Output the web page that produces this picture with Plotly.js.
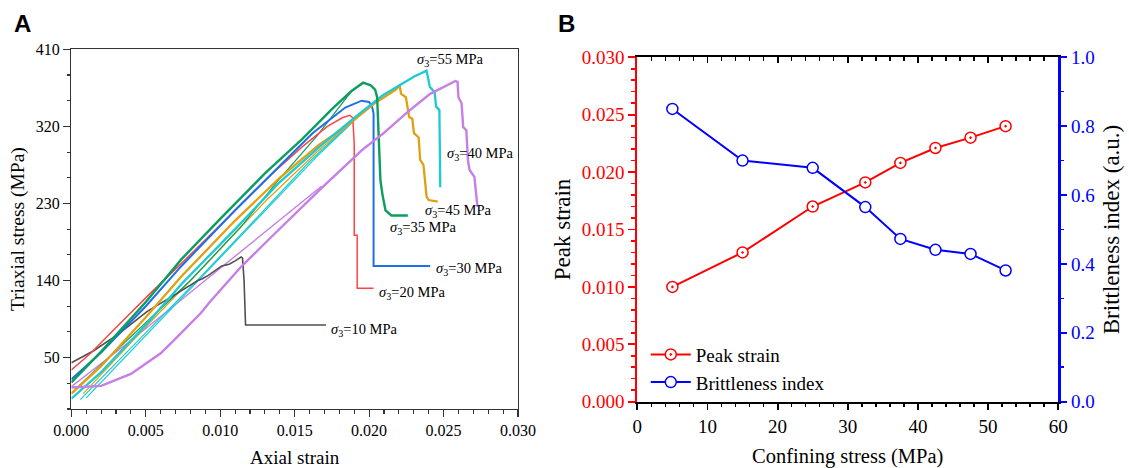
<!DOCTYPE html>
<html>
<head>
<meta charset="utf-8">
<script src="https://cdn.plot.ly/plotly-3.0.1.min.js"></script>
<style>html,body{margin:0;padding:0;background:#fff;}#chart{width:1129px;height:468px;}</style>
</head>
<body>
<div id="chart"></div>
<script>
// ---------- Panel A : stress-strain curves ----------
const s10Strain = [0,0.0015,0.0032,0.0051,0.0071,0.0085,0.0088,0.0092,0.0101,0.0106,0.0110,0.0114,0.0115,0.0116,0.0117,0.0171];
const s10Stress = [44,58,78,104,125,140,142,146,157,159,163,167.5,166,140,88,88];

const s20Strain = [0,0.0013,0.0027,0.0053,0.0074,0.011,0.0135,0.0155,0.0172,0.0182,0.0187,0.0189,0.0190,0.0190,0.0192,0.0192,0.0203];
const s20Stress = [35.5,55,80,125,160,222,265,296,320,330,333,330,300,193,193,131,131];

const s30Strain = [0,0.002,0.005,0.0074,0.011,0.0135,0.0162,0.0184,0.0195,0.0200,0.0202,0.0203,0.0203,0.0241];
const s30Stress = [24.6,56,110,157,222,265,312,342,350,348.5,343,335,157,157];

const s35Strain = [0,0.002,0.005,0.0074,0.010,0.013,0.0155,0.0175,0.0188,0.0196,0.0201,0.0204,0.02054,0.02065,0.02076,0.0209,0.0211,0.0215,0.0226];
const s35Stress = [21,57,115,165,212,265,305,340,361,371,368,363,354,308,257,240,222,216,216];
const s35bStrain = [0.0005,0.004,0.008,0.0115,0.0138,0.0165,0.0189];
const s35bStress = [17,74,140,205,255,309,363];

const s45Strain = [0,0.002,0.005,0.0074,0.011,0.014,0.0166,0.0186,0.0203,0.0218,0.02205,0.02215,0.02247,0.02269,0.0229,0.02301,0.02333,0.02343,0.02365,0.02386,0.0240,0.02461];
const s45Stress = [8,40,97,145,210,260,298,322,346,363,368,358,354,331,329,312,307,281,275,238,234,232];
const s45bStrain = [0.0008,0.005,0.009,0.013,0.0165,0.019];
const s45bStress = [8,86,158,232,290,328];

const s55Strain = [0,0.002,0.005,0.0074,0.011,0.014,0.0168,0.019,0.0209,0.0219,0.023,0.02386,0.02397,0.02408,0.0244,0.0245,0.02472,0.02478];
const s55Stress = [2,33,88,136,200,255,298,330,356,366,378,385,376,366,360,343,339,249];
const s55bStrain = [0.001,0.005,0.009,0.013,0.0165,0.0195];
const s55bStress = [3,76,148,222,285,335];
const s55cStrain = [0.0006,0.0045,0.0085,0.0125,0.016,0.0192];
const s55cStress = [1,70,141,214,279,331];

const s40Strain = [0,0.002,0.004,0.006,0.0071,0.0087,0.0093,0.0114,0.0135,0.0168,0.0195,0.0209,0.0226,0.0241,0.0258,0.02594,0.0260,0.02621,0.02632,0.02653,0.02664,0.02675,0.02707,0.02728];
const s40Stress = [15,17,31,55,74,102,115,156,192,248,292,311,337,358,373,372,354,347,319,315.5,280,269,261,226];
const s40bStrain = [0,0.004,0.0082,0.0125,0.0168];
const s40bStress = [16,70,129,190,250];

// curve labels
const labelText = ['10','20','30','35','45','40','55'];
const labelX = [0.0173,0.0205,0.02436,0.02129,0.02365,0.0251,0.0231];
const labelY = [82,126,153,201,221,287.5,397.5];

// ---------- Panel B ----------
const confining = [5,15,25,32.5,37.5,42.5,47.5,52.5];
const peakStrain = [0.0100,0.0130,0.0170,0.0191,0.0208,0.0221,0.0230,0.0240];
const brittleness = [0.850,0.700,0.679,0.565,0.4725,0.441,0.429,0.381];

const serif = 'Liberation Serif, "Times New Roman", serif';

function curve(x, y, color, width) {
  return {x: x, y: y, type: 'scatter', mode: 'lines', xaxis: 'x', yaxis: 'y',
          line: {color: color, width: width}, showlegend: false, hoverinfo: 'skip'};
}

const cGray = '#505050', cRed = '#ff4444', cBlue = '#1f70e6', cGreen = '#0b9e5e',
      cOrange = '#e1a012', cCyan = '#1dcad3', cPurple = '#c57fe5';

const traces = [
  curve(s40bStrain, s40bStress, cPurple, 1.4),
  curve(s55cStrain, s55cStress, cCyan, 1.2),
  curve(s55bStrain, s55bStress, cCyan, 1.2),
  curve(s45bStrain, s45bStress, cOrange, 1.2),
  curve(s35bStrain, s35bStress, cGreen, 1.2),
  curve(s10Strain, s10Stress, cGray, 1.6),
  curve(s20Strain, s20Stress, cRed, 1.5),
  curve(s30Strain, s30Stress, cBlue, 2.0),
  curve(s45Strain, s45Stress, cOrange, 2.3),
  curve(s55Strain, s55Stress, cCyan, 2.3),
  curve(s35Strain, s35Stress, cGreen, 2.4),
  curve(s40Strain, s40Stress, cPurple, 2.4),
  {x: confining, y: peakStrain, type: 'scatter', mode: 'lines+markers', name: 'Peak strain',
   xaxis: 'x2', yaxis: 'y2', line: {color: '#ff0000', width: 2},
   marker: {symbol: 'circle-dot', size: 11, color: '#ffffff', line: {color: '#ff0000', width: 1.5}}},
  {x: confining, y: brittleness, type: 'scatter', mode: 'lines+markers', name: 'Brittleness index',
   xaxis: 'x2', yaxis: 'y3', line: {color: '#0000ff', width: 2},
   marker: {symbol: 'circle', size: 11, color: '#ffffff', line: {color: '#0000ff', width: 1.5}}},
  {x: [30], y: [0.015], type: 'scatter', mode: 'markers', xaxis: 'x3', yaxis: 'y2',
   marker: {opacity: 0}, showlegend: false, hoverinfo: 'skip'}
];

const annotations = labelText.map((t, i) => ({
  text: '<i>σ</i><sub>3</sub>=' + t + ' MPa', x: labelX[i], y: labelY[i], xref: 'x', yref: 'y',
  xanchor: 'left', yanchor: 'middle', showarrow: false, font: {family: serif, size: 14.5, color: '#000'}
}));
annotations.push({text: 'A', x: 12/1129, y: 1 - 23/468, xref: 'paper', yref: 'paper', xanchor: 'left', yanchor: 'middle',
  showarrow: false, font: {family: 'Liberation Sans, Arial, sans-serif', size: 24, color: '#000', weight: 'bold'}});
annotations.push({text: 'B', x: 556/1129, y: 1 - 23/468, xref: 'paper', yref: 'paper', xanchor: 'left', yanchor: 'middle',
  showarrow: false, font: {family: 'Liberation Sans, Arial, sans-serif', size: 24, color: '#000', weight: 'bold'}});

const layout = {
  width: 1129, height: 468, margin: {l: 0, r: 0, t: 0, b: 0},
  paper_bgcolor: '#ffffff', plot_bgcolor: 'rgba(0,0,0,0)',
  font: {family: serif, size: 16, color: '#000'},
  showlegend: true,
  legend: {x: 0.572, y: 0.283, xanchor: 'left', yanchor: 'top', font: {family: serif, size: 19, color: '#000'},
           bgcolor: 'rgba(0,0,0,0)', borderwidth: 0, itemwidth: 40, tracegroupgap: 0},
  xaxis: {domain: [0.0632, 0.4588], anchor: 'y', range: [0, 0.03], tick0: 0, dtick: 0.005, tickformat: '.3f',
          ticks: 'outside', ticklen: 7, tickwidth: 1.2, tickcolor: '#333',
          minor: {dtick: 0.001, tick0: 0, ticks: 'outside', ticklen: 3.5, tickwidth: 1.1, tickcolor: '#333'},
          showline: true, linecolor: '#333', linewidth: 1.3, mirror: true, showgrid: false, zeroline: false,
          tickfont: {size: 16}, automargin: false,
          title: {text: 'Axial strain', font: {size: 19}, standoff: 12}},
  yaxis: {domain: [0.1261, 0.8947], anchor: 'x', range: [-10, 410], tick0: 50, dtick: 90,
          ticks: 'outside', ticklen: 7, tickwidth: 1.2, tickcolor: '#333',
          minor: {dtick: 30, tick0: -10, ticks: 'outside', ticklen: 3.5, tickwidth: 1.1, tickcolor: '#333'},
          showline: true, linecolor: '#333', linewidth: 1.3, mirror: true, showgrid: false, zeroline: false,
          tickfont: {size: 16}, automargin: false,
          title: {text: 'Triaxial stress (MPa)', font: {size: 19.5}, standoff: 6}},
  xaxis2: {domain: [0.5645, 0.9373], anchor: 'y2', range: [0, 60], tick0: 0, dtick: 10,
           ticks: 'outside', ticklen: 6.5, tickwidth: 1.8, tickcolor: '#000',
           minor: {dtick: 2, tick0: 0, ticks: 'outside', ticklen: 3.5, tickwidth: 1.5, tickcolor: '#000'},
           showline: true, linecolor: '#000', linewidth: 2.2, showgrid: false, zeroline: false,
           tickfont: {size: 19}, automargin: false,
           title: {text: 'Confining stress (MPa)', font: {size: 20.5}, standoff: 14}},
  xaxis3: {overlaying: 'x2', side: 'top', anchor: 'y2', range: [0, 60], tick0: 0, dtick: 10,
           ticks: 'inside', ticklen: 6, tickwidth: 1.8, tickcolor: '#000', showticklabels: false,
           minor: {dtick: 2, tick0: 0, ticks: 'inside', ticklen: 3.3, tickwidth: 1.5, tickcolor: '#000'},
           showline: true, linecolor: '#000', linewidth: 2.2, showgrid: false, zeroline: false, automargin: false},
  yaxis2: {domain: [0.1417, 0.8776], anchor: 'x2', range: [0, 0.03], tick0: 0, dtick: 0.005, tickformat: '.3f',
           ticks: 'outside', ticklen: 6.5, tickwidth: 1.8, tickcolor: '#ff0000',
           minor: {dtick: 0.001, tick0: 0, ticks: 'outside', ticklen: 3.5, tickwidth: 1.5, tickcolor: '#ff0000'},
           showline: true, linecolor: '#ff0000', linewidth: 2.4, showgrid: false, zeroline: false,
           tickfont: {size: 19, color: '#ff0000'}, automargin: false,
           title: {text: 'Peak strain', font: {size: 23, color: '#000'}, standoff: 5}},
  yaxis3: {overlaying: 'y2', side: 'right', anchor: 'x2', range: [0, 1], tick0: 0, dtick: 0.2, tickformat: '.1f',
           ticks: 'outside', ticklen: 6.5, tickwidth: 1.8, tickcolor: '#0000ff',
           minor: {dtick: 0.1, tick0: 0, ticks: 'outside', ticklen: 3.5, tickwidth: 1.5, tickcolor: '#0000ff'},
           showline: true, linecolor: '#0000ff', linewidth: 2.4, showgrid: false, zeroline: false,
           tickfont: {size: 19, color: '#0000ff'}, automargin: false,
           title: {text: 'Brittleness index (a.u.)', font: {size: 23, color: '#000'}, standoff: 9}},
  annotations: annotations
};

Plotly.newPlot('chart', traces, layout, {displayModeBar: false, staticPlot: true});
</script>
</body>
</html>
